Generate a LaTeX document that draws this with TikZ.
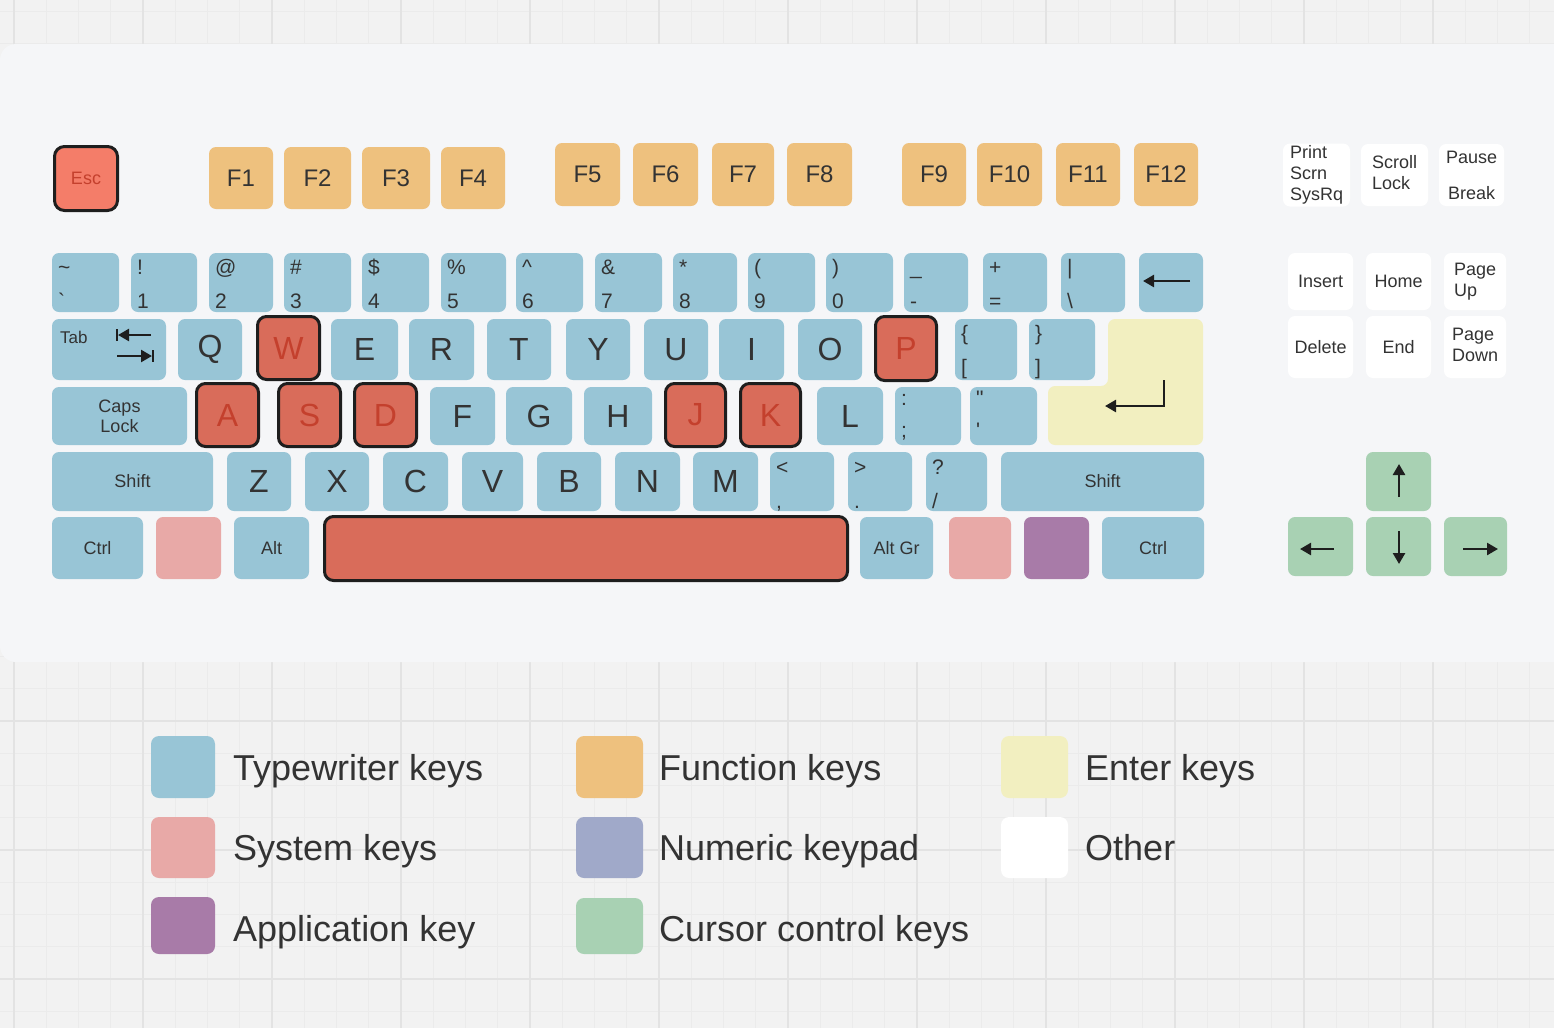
\documentclass[tikz,border=0pt]{standalone}
\usepackage{fontspec}
\setmainfont{Liberation Sans}
\usetikzlibrary{arrows.meta}
\definecolor{bg}{HTML}{F2F2F2}
\definecolor{panel}{HTML}{F5F6F8}
\definecolor{gmin}{HTML}{EBEBEB}
\definecolor{gmaj}{HTML}{E3E3E3}
\definecolor{typ}{HTML}{98C5D6}
\definecolor{fun}{HTML}{EEC17E}
\definecolor{ent}{HTML}{F2EFC0}
\definecolor{sys}{HTML}{E8A9A7}
\definecolor{app}{HTML}{A87BA8}
\definecolor{nump}{HTML}{A0A9C9}
\definecolor{cur}{HTML}{A8D1B3}
\definecolor{hl}{HTML}{D96C5A}
\definecolor{escc}{HTML}{F47D69}
\definecolor{hltext}{HTML}{C4402D}
\definecolor{txt}{HTML}{333333}
\definecolor{kline}{HTML}{1E1E1E}
\tikzset{
  key/.style={rectangle, rounded corners=7pt, inner sep=0pt, outer sep=0pt, align=center, text=txt},
  tk/.style={key, fill=typ},
  lk/.style={tk, font=\fontsize{32}{36}\selectfont},
  mk/.style={tk, font=\fontsize{18}{20}\selectfont},
  fk/.style={key, fill=fun, font=\fontsize{24}{28}\selectfont},
  hk/.style={key, fill=hl, draw=kline, line width=3pt, rounded corners=9pt, text=hltext, font=\fontsize{32}{36}\selectfont},
  esck/.style={key, fill=escc, draw=kline, line width=3pt, rounded corners=10pt, text=hltext, font=\fontsize{18}{20}\selectfont},
  sk/.style={key, fill=sys},
  ak/.style={key, fill=app},
  ck/.style={key, fill=cur},
  ok/.style={key, fill=white, font=\fontsize{18}{21}\selectfont},
  sym/.style={inner sep=0pt, text=txt, font=\fontsize{21}{24}\selectfont},
  modlbl/.style={inner sep=0pt, text=txt, font=\fontsize{17}{20}\selectfont},
  karrow/.style={line width=2.5pt, draw=kline, -{Triangle[length=11pt,width=12pt]}},
  swatch/.style={rectangle, rounded corners=8pt, inner sep=0pt, outer sep=0pt},
  legtext/.style={inner sep=0pt, text=txt, font=\fontsize{36}{40}\selectfont},
  gridminor/.style={draw=gmin, line width=1pt},
  gridmajor/.style={draw=gmaj, line width=2pt}
}
\newcommand\kk[7]{%
  \pgfmathsetmacro\kw{#5-#3}\pgfmathsetmacro\kh{#6-#4}%
  \node[#2, minimum width=\kw pt, minimum height=\kh pt] (#1) at ({(#3+#5)/2},{(#4+#6)/2}) {#7};}
\newcommand\dk[9]{%
  \kk{#1}{tk}{#2}{#3}{#4}{#5}{}
  \node[sym,anchor=base west] (#1t) at (#2+6,#3+#8) {#6};
  \node[sym,anchor=base west] (#1b) at (#2+6,#3+#9) {#7};}
\begin{document}
\begin{tikzpicture}[x=1pt,y=-1pt]
\useasboundingbox (0,0) rectangle (1554,1028);
\fill[bg] (0,0) rectangle (1554,1028);
\begin{scope}
\clip (0,0) rectangle (1554,1028);
\foreach \i in {0,...,48} {\pgfmathsetmacro\xx{14+32.25*\i}\draw[gridminor] (\xx,0) -- (\xx,1028);}
\foreach \i in {0,...,31} {\pgfmathsetmacro\yy{11.5+32.25*\i}\draw[gridminor] (0,\yy) -- (1554,\yy);}
\foreach \i in {0,...,12} {\pgfmathsetmacro\xx{14+129*\i}\draw[gridmajor] (\xx,0) -- (\xx,1028);}
\foreach \i in {0,...,7} {\pgfmathsetmacro\yy{76+129*\i}\draw[gridmajor] (0,\yy) -- (1554,\yy);}
\fill[panel, rounded corners=16pt] (0,44) rectangle (1590,662);
\end{scope}

% Esc and function keys
\kk{kesc}{esck}{54.5}{146.5}{117.5}{210.5}{Esc}
\kk{kfone}{fk}{209}{147}{273}{209}{F1}
\kk{kftwo}{fk}{284}{147}{351}{209}{F2}
\kk{kfthree}{fk}{362}{147}{430}{209}{F3}
\kk{kffour}{fk}{441}{147}{505}{209}{F4}
\kk{kffive}{fk}{555}{143}{620}{206}{F5}
\kk{kfsix}{fk}{633}{143}{698}{206}{F6}
\kk{kfseven}{fk}{712}{143}{774}{206}{F7}
\kk{kfeight}{fk}{787}{143}{852}{206}{F8}
\kk{kfnine}{fk}{902}{143}{966}{206}{F9}
\kk{kften}{fk}{977}{143}{1042}{206}{F10}
\kk{kfeleven}{fk}{1056}{143}{1120}{206}{F11}
\kk{kftwelve}{fk}{1134}{143}{1198}{206}{F12}

% number row
\dk{kgrave}{52}{253}{119}{312}{\textasciitilde}{\textasciigrave}{21}{55}
\dk{kone}{131}{253}{197}{312}{!}{1}{21}{55}
\dk{ktwo}{209}{253}{273}{312}{@}{2}{21}{55}
\dk{kthree}{284}{253}{351}{312}{\#}{3}{21}{55}
\dk{kfour}{362}{253}{429}{312}{\$}{4}{21}{55}
\dk{kfive}{441}{253}{506}{312}{\%}{5}{21}{55}
\dk{ksix}{516}{253}{583}{312}{\textasciicircum}{6}{21}{55}
\dk{kseven}{595}{253}{662}{312}{\&}{7}{21}{55}
\dk{keight}{673}{253}{737}{312}{*}{8}{21}{55}
\dk{knine}{748}{253}{815}{312}{(}{9}{21}{55}
\dk{kzero}{826}{253}{893}{312}{)}{0}{21}{55}
\dk{kminus}{904}{253}{968}{312}{\_}{-}{21}{55}
\dk{kequal}{983}{253}{1047}{312}{+}{=}{21}{55}
\dk{kbslash}{1061}{253}{1125}{312}{|}{\textbackslash}{21}{55}
\kk{kbksp}{tk}{1139}{253}{1203}{312}{}
\draw[karrow] (1190,281) -- (1143,281);

% Q row
\kk{ktab}{tk}{52}{319}{166}{380}{}
\node[modlbl,anchor=base west] (ktablbl) at (60,343) {Tab};
\draw[line width=2.5pt, draw=kline] (117,329) -- (117,341);
\draw[karrow] (151,335) -- (118,335);
\draw[line width=2.5pt, draw=kline] (153,350) -- (153,362);
\draw[karrow] (117,356) -- (152,356);
\kk{kq}{lk}{178}{319}{242}{380}{Q}
\kk{kw}{hk}{257.5}{316.5}{319.5}{379.5}{W}
\kk{ke}{lk}{331}{319}{398}{380}{E}
\kk{kr}{lk}{409}{319}{474}{380}{R}
\kk{kt}{lk}{487}{319}{551}{380}{T}
\kk{ky}{lk}{566}{319}{630}{380}{Y}
\kk{ku}{lk}{644}{319}{708}{380}{U}
\kk{ki}{lk}{719}{319}{784}{380}{I}
\kk{ko}{lk}{798}{319}{862}{380}{O}
\kk{kp}{hk}{875.5}{316.5}{936.5}{380.5}{P}
\dk{klbrace}{955}{319}{1017}{380}{\{}{[}{21}{55}
\dk{krbrace}{1029}{319}{1095}{380}{\}}{]}{21}{55}

% Enter
\fill[ent, rounded corners=7pt] (1108,319) -- (1203,319) -- (1203,445) -- (1048,445) -- (1048,386) -- (1108,386) -- cycle;
\coordinate (kenter) at (1164,380);
\draw[karrow] (kenter) -- (1164,406) -- (1105,406);

% A row
\kk{kcaps}{mk}{52}{387}{187}{445}{Caps\\Lock}
\kk{ka}{hk}{196.5}{383.5}{258.5}{446.5}{A}
\kk{ks}{hk}{278.5}{383.5}{340.5}{446.5}{S}
\kk{kd}{hk}{354.5}{383.5}{416.5}{446.5}{D}
\kk{kf}{lk}{430}{387}{495}{445}{F}
\kk{kg}{lk}{506}{387}{572}{445}{G}
\kk{kh}{lk}{584}{387}{652}{445}{H}
\kk{kj}{hk}{665.5}{383.5}{725.5}{446.5}{J}
\kk{kk}{hk}{740.5}{383.5}{800.5}{446.5}{K}
\kk{kl}{lk}{817}{387}{883}{445}{L}
\dk{ksemi}{895}{387}{961}{445}{:}{;}{18}{50}
\dk{kquote}{970}{387}{1037}{445}{\textquotedbl}{\textquotesingle}{18}{50}

% Z row
\kk{klshift}{mk}{52}{452}{213}{511}{Shift}
\kk{kz}{lk}{227}{452}{291}{511}{Z}
\kk{kx}{lk}{305}{452}{369}{511}{X}
\kk{kc}{lk}{383}{452}{448}{511}{C}
\kk{kv}{lk}{462}{452}{523}{511}{V}
\kk{kb}{lk}{537}{452}{601}{511}{B}
\kk{kn}{lk}{615}{452}{680}{511}{N}
\kk{km}{lk}{693}{452}{758}{511}{M}
\dk{kcomma}{770}{452}{834}{511}{<}{,}{22}{56}
\dk{kperiod}{848}{452}{912}{511}{>}{.}{22}{56}
\dk{kslash}{926}{452}{987}{511}{?}{/}{22}{56}
\kk{krshift}{mk}{1001}{452}{1204}{511}{Shift}

% bottom row
\kk{klctrl}{mk}{52}{517}{143}{579}{Ctrl}
\kk{klsys}{sk}{156}{517}{221}{579}{}
\kk{kalt}{mk}{234}{517}{309}{579}{Alt}
\kk{kspace}{hk}{324.5}{516.5}{847.5}{580.5}{}
\kk{kaltgr}{mk}{860}{517}{933}{579}{Alt Gr}
\kk{krsys}{sk}{949}{517}{1011}{579}{}
\kk{kapp}{ak}{1024}{517}{1089}{579}{}
\kk{krctrl}{mk}{1102}{517}{1204}{579}{Ctrl}

% right cluster
\kk{kprint}{ok}{1283}{144}{1350}{206}{\begin{tabular}{@{}l@{}}Print\\Scrn\\SysRq\end{tabular}}
\kk{kscroll}{ok}{1361}{144}{1428}{206}{\begin{tabular}{@{}l@{}}Scroll\\Lock\end{tabular}}
\kk{kpause}{ok}{1439}{144}{1504}{206}{Pause\\[15pt]Break}
\kk{kinsert}{ok}{1288}{253}{1353}{310}{Insert}
\kk{khome}{ok}{1366}{253}{1431}{310}{Home}
\kk{kpgup}{ok}{1444}{253}{1506}{310}{\begin{tabular}{@{}l@{}}Page\\Up\end{tabular}}
\kk{kdelete}{ok}{1288}{316}{1353}{378}{Delete}
\kk{kend}{ok}{1366}{316}{1431}{378}{End}
\kk{kpgdn}{ok}{1444}{316}{1506}{378}{\begin{tabular}{@{}l@{}}Page\\Down\end{tabular}}

% cursor keys
\kk{kup}{ck}{1366}{452}{1431}{511}{}
\kk{kleft}{ck}{1288}{517}{1353}{576}{}
\kk{kdown}{ck}{1366}{517}{1431}{576}{}
\kk{kright}{ck}{1444}{517}{1507}{576}{}
\draw[karrow] (1399,497) -- (1399,464);
\draw[karrow] (1334,549) -- (1300,549);
\draw[karrow] (1399,531) -- (1399,564);
\draw[karrow] (1463,549) -- (1498,549);

% legend
\kk{swa}{swatch,fill=typ}{151}{736}{215}{798}{}
\kk{swb}{swatch,fill=sys}{151}{817}{215}{878}{}
\kk{swc}{swatch,fill=app}{151}{897}{215}{954}{}
\kk{swd}{swatch,fill=fun}{576}{736}{643}{798}{}
\kk{swe}{swatch,fill=nump}{576}{817}{643}{878}{}
\kk{swf}{swatch,fill=cur}{576}{898}{643}{954}{}
\kk{swg}{swatch,fill=ent}{1001}{736}{1068}{798}{}
\kk{swh}{swatch,fill=white}{1001}{817}{1068}{878}{}
\node[legtext, anchor=base west] (lt1) at (233,780) {Typewriter keys};
\node[legtext, anchor=base west] (lt2) at (233,860) {System keys};
\node[legtext, anchor=base west] (lt3) at (233,941) {Application key};
\node[legtext, anchor=base west] (lt4) at (659,780) {Function keys};
\node[legtext, anchor=base west] (lt5) at (659,860) {Numeric keypad};
\node[legtext, anchor=base west] (lt6) at (659,941) {Cursor control keys};
\node[legtext, anchor=base west] (lt7) at (1085,780) {Enter keys};
\node[legtext, anchor=base west] (lt8) at (1085,860) {Other};
\end{tikzpicture}
\end{document}
